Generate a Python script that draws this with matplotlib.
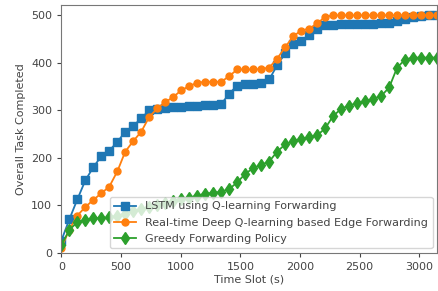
import numpy as np
import matplotlib
matplotlib.use("Agg")
import matplotlib.pyplot as plt

# time slots (s)
time_slot = [0, 67, 134, 201, 268, 335, 402, 469, 536, 603, 670, 737,
             804, 871, 938, 1005, 1072, 1139, 1206, 1273, 1340, 1407, 1474, 1541,
             1608, 1675, 1742, 1809, 1876, 1943, 2010, 2077, 2144, 2211, 2278, 2345,
             2412, 2479, 2546, 2613, 2680, 2747, 2814, 2881, 2948, 3015, 3082, 3149]

lstm_q = [25, 70, 112, 152, 180, 203, 215, 233, 255, 267, 283, 300,
          303, 305, 306, 307, 308, 310, 311, 312, 313, 335, 352, 355,
          355, 357, 365, 395, 420, 440, 447, 458, 472, 479, 480, 481,
          481, 481, 482, 482, 483, 484, 488, 492, 496, 499, 500, 500]

realtime_dq = [10, 48, 78, 96, 111, 125, 139, 171, 213, 235, 255, 286,
               304, 317, 328, 342, 351, 358, 360, 360, 360, 372, 386, 386,
               386, 387, 390, 409, 433, 456, 468, 472, 483, 497, 500, 500,
               500, 500, 500, 500, 500, 500, 500, 500, 500, 500, 500, 500]

greedy = [15, 48, 64, 69, 72, 73, 74, 78, 82, 87, 92, 96,
          100, 104, 108, 112, 116, 120, 124, 126, 128, 134, 148, 166,
          178, 185, 192, 213, 228, 235, 240, 243, 247, 262, 288, 303,
          310, 315, 319, 324, 330, 348, 390, 407, 411, 411, 411, 411]

labels = ["LSTM using Q-learning Forwarding",
          "Real-time Deep Q-learning based Edge Forwarding",
          "Greedy Forwarding Policy"]

plt.rcParams.update({
    "font.family": "DejaVu Sans",
    "font.size": 8,
    "text.color": "#444444",
    "axes.labelcolor": "#444444",
    "xtick.color": "#444444",
    "ytick.color": "#444444",
    "axes.edgecolor": "#777777",
})

fig = plt.figure(figsize=(4.38, 2.91), dpi=100)
ax = fig.add_axes([0.14, 0.132, 0.858, 0.851])

ax.plot(time_slot, lstm_q, color="#1f77b4", marker="s", markersize=5.6, linewidth=1.3, label=labels[0])
ax.plot(time_slot, realtime_dq, color="#ff7f0e", marker="o", markersize=5, linewidth=1.3, label=labels[1])
ax.plot(time_slot, greedy, color="#2ca02c", marker="d", markersize=6, linewidth=1.3, label=labels[2])

ax.set_xlim(0, 3149)
ax.set_ylim(0, 522)
ax.set_xticks([0, 500, 1000, 1500, 2000, 2500, 3000])
ax.set_yticks([0, 100, 200, 300, 400, 500])
ax.tick_params(labelsize=8, length=3)
ax.set_xlabel("Time Slot (s)", fontsize=8, labelpad=2)
ax.set_ylabel("Overall Task Completed", fontsize=8, labelpad=4)

ax.legend(loc="lower right", fontsize=8, handlelength=2, borderpad=0.4,
          labelspacing=0.55, borderaxespad=0.4)

plt.savefig("out.png", dpi=100)
